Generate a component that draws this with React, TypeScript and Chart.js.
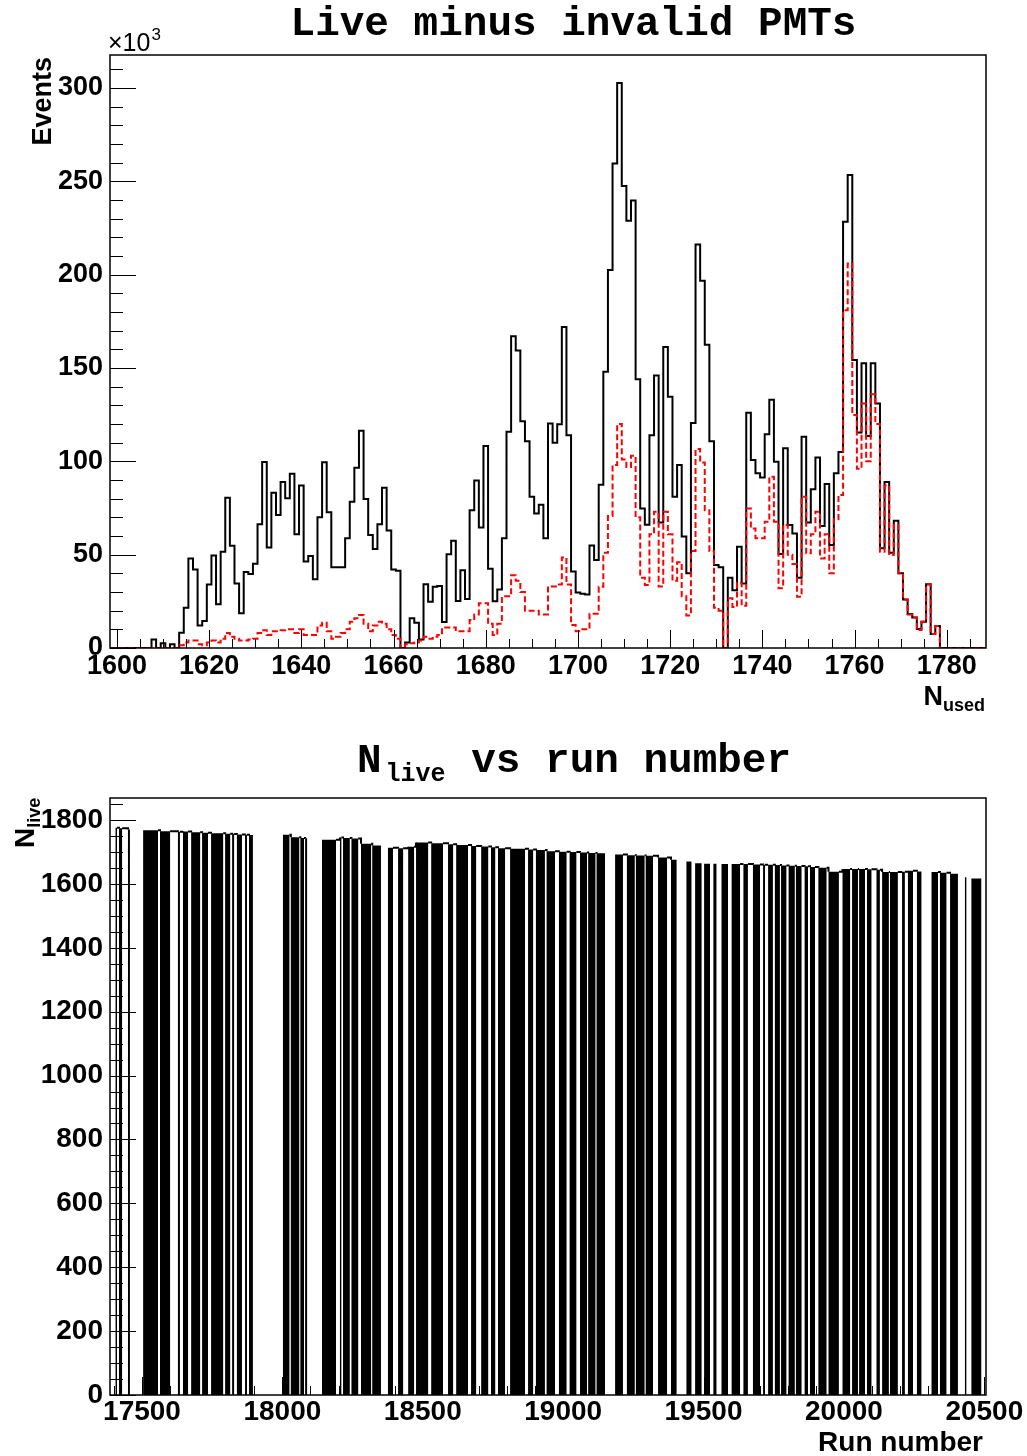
import React, { useEffect, useRef } from "react";
import { Chart, registerables } from "chart.js";

Chart.register(...registerables);

// ---------------- Top panel: N_used histogram (bins of width 1, centres 1599 ... 1788) ----------------
const nUsedFirstCenter = 1599;
const nUsedBinWidth = 1;
const nUsedAxisMin = 1598.5;
const nUsedAxisMax = 1788.5;
const eventsAxisMax = 317.7; // in units of 10^3 events

// Events (x10^3), black solid line
const liveMinusInvalid = [
  0,
  0, 0, 0, 0, 0, 0, 0, 0,
  4.6, 0, 2.5, 0, 2, 0,
  8.2, 21.6, 48, 42, 12, 14.5,
  34, 49.5, 23.4, 51.6, 80.5, 54.8, 34.5, 18.6, 40.7, 39.6,
  45.2, 66.3, 99.6, 53.8, 83.2, 71.3, 89, 80.2, 93.4, 61,
  87, 46.3, 49.3, 36.8, 70, 99.5, 72.7, 43.2, 43.2, 43.2,
  58.8, 78.4, 96.6, 116.4, 79.8, 60.5, 53, 66.3, 85.9, 62.9,
  42, 41.4, 0, 3, 16, 13.5, 4.5, 34.2, 24.8, 32.8,
  33.2, 13.9, 50.2, 57.4, 25.2, 41.6, 26.2, 73.8, 89.8, 64.5,
  108.2, 42.4, 25, 31.4, 58.8, 115.8, 167, 159.4, 121.5, 110.7,
  81, 72.1, 76.8, 58.8, 120.3, 110, 119.9, 172, 114, 41,
  29.7, 29, 28.7, 54.9, 47.1, 87.5, 148, 202.5, 259.6, 302.7,
  247.5, 228.9, 239.8, 144, 74.8, 66, 114, 146, 67.2, 161.3,
  134.6, 81, 98, 59.8, 40, 120.5, 216.2, 196.7, 162.5, 110.7,
  44.5, 43.3, 0, 37.6, 31, 54.3, 34.6, 126, 100.7, 93.6,
  91.4, 114.5, 133, 99.8, 50.4, 107, 65.9, 61.4, 37.7, 113.2,
  67.3, 85, 102, 65.4, 87.9, 55.2, 93.6, 105, 228.4, 253.4,
  154.3, 115.4, 152.5, 113.6, 152.5, 131, 53.4, 89, 51, 68.2,
  40, 26, 18.2, 16.4, 10.2, 14.1, 34.1, 7.5, 11.8, 0,
  0, 0, 0, 0, 0, 0, 0, 0, 0,
];

// Events (x10^3), red dashed line
const redDashedCounts = [
  0,
  0, 0, 0, 0, 0, 0, 0, 0,
  0, 0, 0, 0, 0, 0,
  1.5, 3, 4, 4, 2, 1.5,
  3, 4, 3, 5, 8, 6, 5, 4, 4, 4.5,
  5, 8, 9.5, 7, 9, 9, 9.5, 10, 10, 8,
  10, 7, 7, 7, 12, 13.5, 9, 5, 6, 8,
  10, 14, 16, 17.7, 13, 9, 12, 14, 13, 10,
  7, 5, 0, 2, 2.5, 3, 4, 6, 5, 6,
  7, 11, 11, 11, 9, 9, 9, 15, 18, 24,
  24, 13, 7, 13, 27.7, 27.7, 39, 36, 30, 20,
  20, 20, 18, 18, 33, 33, 34, 48.5, 34, 12.3,
  9, 10, 10, 18.4, 18.4, 32.8, 51, 70.7, 98, 120,
  101, 97, 103, 70, 37.7, 33.8, 61, 73, 33, 73,
  61, 36, 46, 27.7, 17.4, 52, 106.6, 99.4, 73.8, 52,
  21.5, 20, 0, 26.6, 22, 35, 22.7, 74.8, 64, 58.8,
  58.8, 67.7, 91.8, 67.7, 32, 65.9, 50, 45, 27.5, 81,
  50.7, 61, 73, 48, 61, 40, 69, 82, 181, 206,
  124.8, 96, 131, 100, 136, 120, 51.6, 87, 49.8, 66,
  40, 26, 18, 16.4, 9.6, 14, 34, 7.5, 11.8, 0,
  0, 0, 0, 0, 0, 0, 0, 0, 0,
];

const nUsedTickLabels = [1600, 1620, 1640, 1660, 1680, 1700, 1720, 1740, 1760, 1780];
const eventsTickLabels = [0, 50, 100, 150, 200, 250, 300];

// ---------------- Bottom panel: N_live vs run number ----------------
const runAxisMin = 17386;
const runAxisMax = 20506;
const nLiveAxisMax = 1869;
const runTickLabels = [17500, 18000, 18500, 19000, 19500, 20000, 20500];
const nLiveTickLabels = [0, 200, 400, 600, 800, 1000, 1200, 1400, 1600, 1800];

// Blocks of runs (dense runs appear as solid black)
const runBlockStart = [
  17405, 17418, 17450,
  17504, 17564, 17628, 17646, 17675, 17714, 17746, 17796, 17821, 17838, 17867, 17881,
  18002, 18030, 18064, 18081,
  18141, 18205, 18216, 18246, 18280, 18320,
  18376, 18412, 18448, 18476, 18530, 18590, 18619, 18672, 18708, 18743, 18768, 18811, 18875,
  18903, 18941, 18985, 19023, 19060, 19089, 19119, 19185, 19227, 19259, 19294, 19338,
  19384, 19439, 19470, 19502, 19535, 19564,
  19600, 19642, 19676, 19712, 19730, 19754, 19776, 19803, 19829, 19860, 19879, 19909, 19945,
  19995, 20029, 20054, 20082, 20116, 20136, 20164, 20207, 20228, 20260, 20312, 20342, 20378, 20431, 20454,
];
const runBlockEnd = [
  17411, 17429, 17457,
  17557, 17600, 17635, 17664, 17707, 17735, 17789, 17814, 17828, 17856, 17874, 17895,
  18025, 18060, 18077, 18088,
  18191, 18210, 18240, 18270, 18316, 18351,
  18394, 18430, 18469, 18519, 18572, 18608, 18661, 18690, 18733, 18758, 18793, 18864, 18893,
  18935, 18971, 19012, 19047, 19085, 19115, 19149, 19213, 19255, 19290, 19320, 19370,
  19404, 19457, 19493, 19523, 19546, 19587,
  19630, 19658, 19701, 19719, 19747, 19772, 19795, 19825, 19849, 19872, 19897, 19938, 19982,
  20022, 20050, 20075, 20098, 20128, 20160, 20192, 20217, 20246, 20276, 20335, 20365, 20406, 20436, 20490,
];
const runBlockNLive = [
  1776, 1774, 1770,
  1768, 1765, 1763, 1764, 1762, 1760, 1759, 1757, 1756, 1755, 1754, 1753,
  1754, 1746, 1744, 1743,
  1738, 1745, 1744, 1742, 1726, 1720,
  1713, 1712, 1716, 1730, 1727, 1724, 1722, 1719, 1717, 1715, 1712, 1710, 1708,
  1706, 1702, 1701, 1700, 1698, 1697, 1696, 1692, 1690, 1689, 1688, 1683,
  1676, 1670, 1665, 1663, 1663, 1662,
  1662, 1662, 1661, 1660, 1660, 1659, 1658, 1657, 1656, 1655, 1653, 1651, 1638,
  1647, 1647, 1647, 1646, 1644, 1637, 1637, 1638, 1641, 1639, 1637, 1635, 1632, 1621, 1617,
];
// 1 = consecutive runs continue (top outline joins the next block)
const runBlockJoined = [
  1, 1, 0,
  1, 1, 1, 1, 1, 1, 1, 1, 1, 1, 1, 0,
  1, 1, 1, 0,
  1, 1, 1, 1, 1, 0,
  1, 1, 1, 1, 1, 1, 1, 1, 1, 1, 1, 1, 1,
  1, 1, 1, 1, 1, 1, 0, 1, 1, 1, 1, 1,
  0, 0, 0, 0, 0, 0,
  1, 1, 1, 1, 1, 1, 1, 1, 1, 1, 1, 1, 1,
  1, 1, 1, 1, 1, 1, 1, 1, 1, 0, 1, 1, 0, 0, 0,
];

// ---------------- helpers ----------------
const SANS = '"Liberation Sans", Arial, sans-serif';
const MONO = '"Liberation Mono", "Courier New", monospace';

function histPoints(values: number[]) {
  const low = nUsedFirstCenter - nUsedBinWidth / 2;
  const pts = values.map((v, i) => ({ x: low + i * nUsedBinWidth, y: v }));
  pts.push({ x: low + values.length * nUsedBinWidth, y: values[values.length - 1] });
  return pts;
}

function blockFillPoints() {
  const pts: { x: number; y: number | null }[] = [];
  runBlockStart.forEach((s, i) => {
    const e = runBlockEnd[i];
    const l = runBlockNLive[i];
    pts.push({ x: s, y: 0 }, { x: s, y: l }, { x: e, y: l }, { x: e, y: 0 });
  });
  return pts;
}

function blockOutlinePoints() {
  const pts: { x: number; y: number | null }[] = [];
  for (let i = 0; i < runBlockStart.length - 1; i++) {
    if (!runBlockJoined[i]) continue;
    const e = runBlockEnd[i];
    const l = runBlockNLive[i];
    const s2 = runBlockStart[i + 1];
    const l2 = runBlockNLive[i + 1];
    pts.push({ x: e, y: l }, { x: s2, y: l }, { x: s2, y: l2 }, { x: s2, y: null });
  }
  return pts;
}

type Decor = {
  xMinorStep: number;
  xMajorStep: number;
  yMinorStep: number;
  yMajorStep: number;
  xTickLen: number;
  yTickLen: number;
  drawText: (ctx: CanvasRenderingContext2D) => void;
};

function decorPlugin(d: Decor) {
  return {
    id: "rootDecor",
    afterDraw(chart: any) {
      const { ctx, chartArea: a, scales } = chart;
      const xs = scales.x;
      const ys = scales.y;
      ctx.save();
      ctx.strokeStyle = "#000";
      ctx.lineWidth = 1;
      ctx.beginPath();
      const x0 = Math.ceil(xs.min / d.xMinorStep) * d.xMinorStep;
      for (let v = x0; v <= xs.max + 1e-9; v += d.xMinorStep) {
        const px = Math.round(xs.getPixelForValue(v)) + 0.5;
        const r = v / d.xMajorStep;
        const major = Math.abs(r - Math.round(r)) < 1e-6;
        const len = major ? d.xTickLen : d.xTickLen / 2;
        ctx.moveTo(px, a.bottom);
        ctx.lineTo(px, a.bottom - len);
      }
      const y0 = Math.ceil(ys.min / d.yMinorStep) * d.yMinorStep;
      for (let v = y0; v <= ys.max + 1e-9; v += d.yMinorStep) {
        const py = Math.round(ys.getPixelForValue(v)) + 0.5;
        const r = v / d.yMajorStep;
        const major = Math.abs(r - Math.round(r)) < 1e-6;
        const len = major ? d.yTickLen : d.yTickLen / 2;
        ctx.moveTo(a.left, py);
        ctx.lineTo(a.left + len, py);
      }
      ctx.stroke();
      ctx.lineWidth = 1.5;
      ctx.strokeRect(a.left, a.top, a.right - a.left, a.bottom - a.top);
      ctx.fillStyle = "#000";
      d.drawText(ctx);
      ctx.restore();
    },
  };
}

function fixedTicks(values: number[]) {
  return (axis: any) => {
    axis.ticks = values.map((v) => ({ value: v }));
  };
}

// ---------------- top chart ----------------
function TopChart() {
  const ref = useRef<HTMLCanvasElement | null>(null);
  useEffect(() => {
    if (!ref.current) return;
    const chart = new Chart(ref.current, {
      type: "line",
      data: {
        datasets: [
          {
            data: histPoints(redDashedCounts) as any,
            stepped: true,
            borderColor: "#ff0000",
            borderWidth: 2,
            borderDash: [6, 3],
            pointRadius: 0,
            fill: false,
            order: 0,
          },
          {
            data: histPoints(liveMinusInvalid) as any,
            stepped: true,
            borderColor: "#000000",
            borderWidth: 2,
            pointRadius: 0,
            fill: false,
            order: 1,
          },
        ],
      },
      options: {
        animation: false,
        responsive: false,
        devicePixelRatio: 1,
        events: [],
        layout: { padding: { top: 55, right: 41, left: 0, bottom: 0 } },
        plugins: { legend: { display: false }, tooltip: { enabled: false }, title: { display: false } },
        scales: {
          x: {
            type: "linear",
            min: nUsedAxisMin,
            max: nUsedAxisMax,
            afterBuildTicks: fixedTicks(nUsedTickLabels),
            afterFit: (s: any) => {
              s.height = 72;
            },
            grid: { display: false, drawTicks: false },
            border: { display: false },
            ticks: {
              autoSkip: false,
              maxRotation: 0,
              minRotation: 0,
              padding: 2,
              color: "#000",
              font: { family: SANS, size: 27, weight: "bold" },
              callback: (v: any) => String(v),
            },
          },
          y: {
            type: "linear",
            min: 0,
            max: eventsAxisMax,
            afterBuildTicks: fixedTicks(eventsTickLabels),
            afterFit: (s: any) => {
              s.width = 110;
            },
            grid: { display: false, drawTicks: false },
            border: { display: false },
            ticks: {
              autoSkip: false,
              padding: 7,
              color: "#000",
              font: { family: SANS, size: 27, weight: "bold" },
              callback: (v: any) => String(v),
            },
          },
        },
      } as any,
      plugins: [
        decorPlugin({
          xMinorStep: 5,
          xMajorStep: 20,
          yMinorStep: 10,
          yMajorStep: 50,
          xTickLen: 18,
          yTickLen: 26,
          drawText: (ctx) => {
            ctx.textBaseline = "alphabetic";
            // title
            ctx.font = `bold 41px ${MONO}`;
            ctx.textAlign = "center";
            ctx.fillText("Live minus invalid PMTs", 573.5, 35);
            // x10^3
            ctx.textAlign = "left";
            ctx.font = `25px ${SANS}`;
            ctx.fillText("\u00d710", 108, 51);
            const w = ctx.measureText("\u00d710").width;
            ctx.font = `17px ${SANS}`;
            ctx.fillText("3", 108 + w + 1, 40);
            // Events (rotated)
            ctx.save();
            ctx.translate(51, 57);
            ctx.rotate(-Math.PI / 2);
            ctx.font = `bold 27px ${SANS}`;
            ctx.textAlign = "right";
            ctx.fillText("Events", 0, 0);
            ctx.restore();
            // N_used
            ctx.font = `bold 18px ${SANS}`;
            const wSub = ctx.measureText("used").width;
            ctx.textAlign = "right";
            ctx.fillText("used", 985, 711);
            ctx.font = `bold 27px ${SANS}`;
            ctx.fillText("N", 985 - wSub, 705);
          },
        }),
      ],
    });
    return () => chart.destroy();
  }, []);
  return <canvas ref={ref} width={1027} height={720} style={{ display: "block" }} />;
}

// ---------------- bottom chart ----------------
function BottomChart() {
  const ref = useRef<HTMLCanvasElement | null>(null);
  useEffect(() => {
    if (!ref.current) return;
    const chart = new Chart(ref.current, {
      type: "line",
      data: {
        datasets: [
          {
            data: blockOutlinePoints() as any,
            borderColor: "#000",
            borderWidth: 2,
            pointRadius: 0,
            spanGaps: false,
            fill: false,
            order: 0,
          },
          {
            data: blockFillPoints() as any,
            borderColor: "rgba(0,0,0,0)",
            backgroundColor: "#000",
            borderWidth: 0,
            pointRadius: 0,
            fill: "origin",
            order: 1,
          },
        ],
      },
      options: {
        animation: false,
        responsive: false,
        devicePixelRatio: 1,
        events: [],
        layout: { padding: { top: 78, right: 41, left: 0, bottom: 0 } },
        plugins: { legend: { display: false }, tooltip: { enabled: false }, title: { display: false } },
        scales: {
          x: {
            type: "linear",
            min: runAxisMin,
            max: runAxisMax,
            afterBuildTicks: fixedTicks(runTickLabels),
            afterFit: (s: any) => {
              s.height = 61;
            },
            grid: { display: false, drawTicks: false },
            border: { display: false },
            ticks: {
              autoSkip: false,
              maxRotation: 0,
              minRotation: 0,
              padding: 0,
              color: "#000",
              font: { family: SANS, size: 28, weight: "bold" },
              callback: (v: any) => String(v),
            },
          },
          y: {
            type: "linear",
            min: 0,
            max: nLiveAxisMax,
            afterBuildTicks: fixedTicks(nLiveTickLabels),
            afterFit: (s: any) => {
              s.width = 110;
            },
            grid: { display: false, drawTicks: false },
            border: { display: false },
            ticks: {
              autoSkip: false,
              padding: 7,
              color: "#000",
              font: { family: SANS, size: 28, weight: "bold" },
              callback: (v: any) => String(v),
            },
          },
        },
      } as any,
      plugins: [
        decorPlugin({
          xMinorStep: 100,
          xMajorStep: 500,
          yMinorStep: 50,
          yMajorStep: 200,
          xTickLen: 18,
          yTickLen: 26,
          drawText: (ctx) => {
            ctx.textBaseline = "alphabetic";
            ctx.textAlign = "left";
            // title: N_live vs run number
            ctx.font = `bold 41px ${MONO}`;
            ctx.fillText("N", 357, 52);
            const wN = ctx.measureText("N").width;
            ctx.font = `bold 25px ${MONO}`;
            ctx.fillText("live", 357 + wN + 4, 61);
            const wLive = ctx.measureText("live").width;
            ctx.font = `bold 41px ${MONO}`;
            ctx.fillText(" vs run number", 357 + wN + 4 + wLive + 1, 52);
            // y title N_live (rotated)
            ctx.save();
            ctx.translate(34, 128);
            ctx.rotate(-Math.PI / 2);
            ctx.font = `bold 28px ${SANS}`;
            ctx.textAlign = "left";
            ctx.fillText("N", 0, 0);
            const wNy = ctx.measureText("N").width;
            ctx.font = `bold 18px ${SANS}`;
            ctx.fillText("live", wNy, 6);
            ctx.restore();
            // x title
            ctx.font = `bold 28px ${SANS}`;
            ctx.textAlign = "right";
            ctx.fillText("Run number", 983, 731);
          },
        }),
      ],
    });
    return () => chart.destroy();
  }, []);
  return <canvas ref={ref} width={1027} height={736} style={{ display: "block" }} />;
}

export default function App() {
  return (
    <div style={{ position: "absolute", left: 0, top: 0, width: 1027, height: 1456, background: "#fff" }}>
      <TopChart />
      <BottomChart />
    </div>
  );
}
